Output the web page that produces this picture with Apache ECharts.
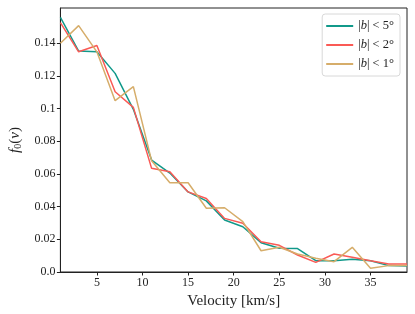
<!DOCTYPE html>
<html>
<head>
<meta charset="utf-8">
<script src="https://cdn.jsdelivr.net/npm/echarts@6/dist/echarts.min.js"></script>
<style>html,body{margin:0;padding:0;background:#fff}#c{width:415px;height:314px}</style>
</head>
<body>
<div id="c"></div>
<script>
const velocity = [1,3,5,7,9,11,13,15,17,19,21,23,25,27,29,31,33,35,37,39];
const seriesNames = ['b5','b2','b1'];
const b5 = [0.1558,0.1352,0.1347,0.1215,0.0995,0.0685,0.0605,0.049,0.0435,0.0318,0.0277,0.0179,0.0145,0.0143,0.0069,0.0069,0.0078,0.0069,0.0039,0.0037];
const b2 = [0.1525,0.1347,0.1386,0.1103,0.1007,0.0634,0.0613,0.049,0.045,0.0328,0.0298,0.0185,0.0163,0.0104,0.0059,0.011,0.009,0.0069,0.0049,0.0049];
const b1 = [0.1399,0.1507,0.1347,0.1048,0.1134,0.068,0.0546,0.0546,0.039,0.0393,0.0308,0.013,0.0151,0.011,0.0084,0.0063,0.0151,0.0023,0.0039,0.0039];
const legendDegrees = ['5','2','1'];
const xTickValues = [5,10,15,20,25,30,35];
const yTickValues = [0,0.02,0.04,0.06,0.08,0.1,0.12,0.14];
const yTickLabels = ['0.0','0.02','0.04','0.06','0.08','0.1','0.12','0.14'];
const colors = ['#11998a','#fa5a55','#d6ad6a'];
const FONT = 'Liberation Serif';

const chart = echarts.init(document.getElementById('c'), null, {renderer:'canvas'});
const allData = [b5,b2,b1];
const series = allData.map((arr,i)=>({
  name: seriesNames[i],
  type:'line',
  data: velocity.map((v,j)=>[v,arr[j]]),
  symbol:'none',
  lineStyle:{width:1.5,color:colors[i]},
  itemStyle:{color:colors[i]},
  z: 2+i
}));
const degMap = {};
seriesNames.forEach((n,i)=>degMap[n]=legendDegrees[i]);
chart.setOption({
  animation:false,
  color: colors,
  grid:{left:52,right:8,top:8,bottom:42,show:true,borderColor:'#222',borderWidth:1},
  legend:{
    orient:'vertical', right:15, top:14,
    icon:'rect',
    itemWidth:27, itemHeight:2, itemGap:5,
    padding:[5,6,5,4],
    borderColor:'#d8d8d8', borderWidth:1, borderRadius:3,
    backgroundColor:'rgba(255,255,255,0.8)',
    formatter: n => '{n||}{i|b}{n|| < ' + degMap[n] + '°}',
    textStyle:{fontFamily:FONT,fontSize:12.5,color:'#222',lineHeight:14,
      rich:{n:{fontFamily:FONT,fontSize:12.5,color:'#222',lineHeight:14},i:{fontFamily:FONT,fontSize:12.5,fontStyle:'italic',color:'#222',lineHeight:14}}}
  },
  xAxis:{
    type:'value', min:1, max:39,
    name:'Velocity [km/s]', nameLocation:'middle', nameGap:19,
    nameTextStyle:{fontFamily:FONT,fontSize:15,color:'#222'},
    axisLine:{show:true,lineStyle:{color:'#222',width:1}},
    axisTick:{show:true,length:3.5,customValues:xTickValues,lineStyle:{color:'#222'}},
    axisLabel:{customValues:xTickValues,fontFamily:FONT,fontSize:12,color:'#222',margin:5},
    splitLine:{show:false}
  },
  yAxis:{
    type:'value', min:0, max:0.1615,
    name:'{i|f}{s|0}{n|(}{i|v}{n|)}', nameLocation:'middle', nameGap:36,
    nameTextStyle:{fontFamily:FONT,fontSize:15,color:'#222',
      rich:{i:{fontFamily:FONT,fontSize:15,fontStyle:'italic',color:'#222'},
            s:{fontFamily:FONT,fontSize:10,color:'#222',padding:[6,0,0,0]},
            n:{fontFamily:FONT,fontSize:15,color:'#222'}}},
    axisLine:{show:true,lineStyle:{color:'#222',width:1}},
    axisTick:{show:true,length:3.5,customValues:yTickValues,lineStyle:{color:'#222'}},
    axisLabel:{customValues:yTickValues,fontFamily:FONT,fontSize:12,color:'#222',margin:5,
      formatter: v => { const k = yTickValues.findIndex(t=>Math.abs(t-v)<1e-9); return k>=0 ? yTickLabels[k] : ''; }},
    splitLine:{show:false}
  },
  series: series
});
</script>
</body>
</html>
